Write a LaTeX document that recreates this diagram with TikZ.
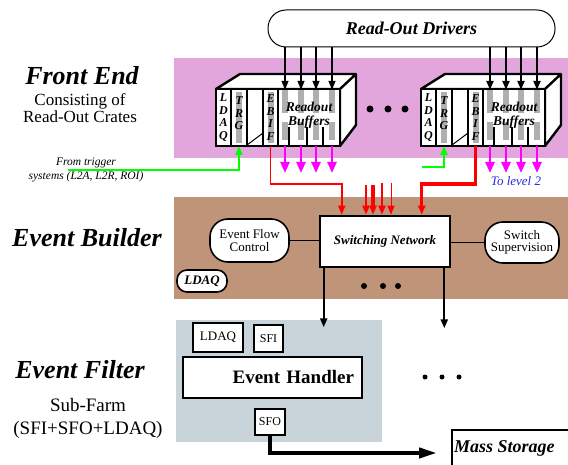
\documentclass[tikz,border=0pt]{standalone}
\usepackage{fontspec}
\setmainfont{Liberation Serif}
\usetikzlibrary{arrows.meta, positioning, calc}
\definecolor{fepink}{RGB}{226,166,220}
\definecolor{ebbrown}{RGB}{192,148,120}
\definecolor{efgray}{RGB}{200,212,218}
\definecolor{stripgray}{RGB}{175,175,175}
\definecolor{trgreen}{RGB}{0,255,0}
\definecolor{ebred}{RGB}{255,0,0}
\definecolor{romagenta}{RGB}{255,0,255}
\definecolor{lvlblue}{RGB}{40,40,230}

\begin{document}
\begin{tikzpicture}[x=1pt, y=-1pt,
    region/.style={anchor=north west, inner sep=0, outer sep=0},
    crate/.style={line width=2.4pt, line join=round},
    slot/.style={draw, line width=1.4pt, fill=white, inner sep=0, outer sep=0,
      minimum height=57pt, anchor=north west},
    letters/.style={font=\fontsize{12}{12.5}\selectfont\bfseries\itshape,
      align=center, inner sep=0},
    oval/.style={draw, line width=1.6pt, fill=white, rounded corners=18pt,
      align=center, inner sep=0, font=\fontsize{13}{12.5}\selectfont},
    stage/.style={font=\fontsize{26}{30}\selectfont\bfseries\itshape, inner sep=1pt},
    efbox/.style={draw, line width=2.2pt, fill=white, inner sep=0,
      font=\fontsize{12}{14}\selectfont},
    tip/.style={-{Triangle[width=7pt, length=9pt]}},
    redlink/.style={ebred, tip},
    >=Latex
  ]
  \useasboundingbox (0,0) rectangle (568,465);
  \clip (0,0) rectangle (568,465);

  % background areas
  \node[region, fill=fepink, minimum width=394pt, minimum height=100pt] (frontend) at (174,58) {};
  \node[region, fill=ebbrown, minimum width=394pt, minimum height=102pt] (builder) at (174,197) {};
  \node[region, fill=efgray, minimum width=206pt, minimum height=122pt] (farm) at (176,320) {};

  % left hand labels
  \node[stage] (fe) at (82,76) {Front End};
  \node[font=\fontsize{17}{13.5}\selectfont, align=center, inner sep=0] (fesub) at (80,108)
    {Consisting of\\Read-Out Crates};
  \node[font=\fontsize{11.5}{14}\selectfont\itshape, align=center] (trig) at (86,170)
    {From trigger\\systems (L2A, L2R, ROI)};
  \node[stage] (eb) at (87,238) {Event Builder};
  \node[stage] (ef) at (80,370) {Event Filter};
  \node[font=\fontsize{19}{23}\selectfont, align=center] (sf) at (88,418)
    {Sub-Farm\\(SFI+SFO+LDAQ)};

  % read-out drivers
  \node[oval, line width=1pt, minimum width=287pt, minimum height=37pt,
    font=\fontsize{18}{20}\selectfont\bfseries\itshape] (drivers) at (411.5,28.5)
    {Read-Out Drivers};

  % the read-out crates
  \foreach \cx/\c/\lw in {216/1/1.4pt, 421/2/2.6pt} {
    \draw[crate, fill=white] (\cx,89) -- (\cx+24,74) -- (\cx+140,74) -- (\cx+140,125)
      -- (\cx+124,146) -- (\cx+124,89) -- cycle (\cx+124,89) -- (\cx+140,74);
    \node[slot, minimum width=15pt] (ldaq\c) at (\cx,89) {};
    \node[slot, minimum width=16pt, right=0pt of ldaq\c] (trg\c) {};
    \node[slot, minimum width=16pt, right=0pt of trg\c] (spare\c) {};
    \node[slot, minimum width=15pt, right=0pt of spare\c] (ebif\c) {};
    \node[slot, minimum width=62pt, right=0pt of ebif\c] (bufs\c) {};
    \fill[stripgray] ([xshift=-3pt, yshift=-3pt]trg\c.north) rectangle ++(6,51);
    \fill[stripgray] ([xshift=-3pt, yshift=-3pt]ebif\c.north) rectangle ++(6,51);
    \draw[line width=1pt] ([yshift=1pt]spare\c.south west) -- ([yshift=13pt]spare\c.south east);
    \foreach \bx/\k in {69/1, 85/2, 100/3, 116/4} {
      \node[fill=stripgray, inner sep=0, minimum width=6pt, minimum height=23pt]
        (buf\c\k) at (\cx+\bx,101.5) {};
      \fill[stripgray] (\cx+\bx-3,122) rectangle ++(6,18);
    }
    \foreach \sx in {73, 91, 107}
      \draw[line width=1.4pt] (\cx+\sx,127) -- (\cx+\sx,146);
    \draw[crate] (ldaq\c.north west) rectangle (bufs\c.south east);
    \node[letters] (ldaqtxt\c) at (ldaq\c) {L\\D\\A\\Q};
    \node[letters] (trgtxt\c) at ([yshift=4pt]trg\c.center) {T\\R\\G};
    \node[letters] (ebiftxt\c) at (ebif\c) {E\\B\\I\\F};
    \node[font=\fontsize{13.5}{14}\selectfont\bfseries\itshape, align=center, inner sep=0]
      (rb\c) at ([yshift=2pt]bufs\c.center) {Readout\\Buffers};
    \foreach \k in {1,...,4} {
      \draw[line width=\lw, tip] (drivers.south -| buf\c\k.north) -- (buf\c\k.north);
      \draw[romagenta, line width=2.4pt, -{Triangle[width=9pt, length=11pt]}]
        (buf\c\k.south |- bufs\c.south) -- ++(0,27);
    }
  }
  \fill (370,109) circle (3.5pt) (388,109) circle (3.5pt) (405,109) circle (3.5pt);
  \node[font=\fontsize{13}{15}\selectfont\itshape, text=lvlblue] (lvl2) at (516,181) {To level 2};

  % event builder
  \node[draw, line width=2.6pt, fill=white, minimum width=130pt, minimum height=51pt,
    font=\fontsize{13}{15}\selectfont\bfseries\itshape] (sw) at (385,241.5) {Switching Network};
  \node[oval, minimum width=79pt, minimum height=43pt] (efc) at (249.5,240.5) {Event Flow\\Control};
  \node[oval, minimum width=74pt, minimum height=41pt] (ssup) at (522,242.5) {Switch\\Supervision};
  \node[oval, rounded corners=10pt, minimum width=50pt, minimum height=22pt,
    font=\fontsize{13}{15}\selectfont\bfseries\itshape] (ebldaq) at (202,281) {LDAQ};
  \draw[line width=1.6pt] (efc.east) -- (efc.east -| sw.west);
  \draw[line width=1.6pt] (ssup.west -| sw.east) -- (ssup.west);
  \fill (364,286) circle (3pt) (383,286) circle (3pt) (398,286) circle (3pt);

  % trigger and event building links
  \coordinate (trigin1) at (68,170);
  \coordinate (trigin2) at (422,167);
  \draw[trgreen, line width=2.4pt, tip] (trigin1) -| (trg1.south);
  \draw[trgreen, line width=2.4pt, tip] (trigin2) -| (trg2.south);
  \draw[redlink, line width=1.6pt] (ebif1.south) -- ++(0,38) -| ([xshift=23pt]sw.north west);
  \draw[redlink, line width=3.4pt] (ebif2.south) -- ++(0,38) -| ([xshift=103pt]sw.north west);
  \foreach \rx/\ry/\rw [count=\i] in {366/185/2.6pt, 373/185/3.2pt, 382/183/2pt, 391/183/1pt} {
    \coordinate (r\i) at (\rx,\ry);
    \draw[redlink, line width=\rw] (r\i) -- (r\i |- sw.north);
  }

  % event filter
  \node[efbox, minimum width=50pt, minimum height=29pt, font=\fontsize{13}{15}\selectfont]
    (efldaq) at (218,337.5) {LDAQ};
  \node[efbox, minimum width=29pt, minimum height=27pt] (sfi) at (268.5,338.5) {SFI};
  \node[efbox, minimum width=179pt, minimum height=41pt, text width=163pt, align=right,
    font=\fontsize{19}{22}\selectfont\bfseries] (handler) at (272.5,377.5) {Event Handler};
  \node[efbox, minimum width=30pt, minimum height=26pt] (sfo) at (270,422) {SFO};
  \draw[line width=2.2pt, tip] ([xshift=5pt]sw.south west) -- ++(0,59);
  \draw[line width=2.2pt, tip] ([xshift=-7pt]sw.south east) -- ++(0,60);
  \fill (425,377) circle (2.5pt) (442,377) circle (2.5pt) (459,377) circle (2.5pt);

  % mass storage
  \node[region, draw, line width=1.6pt, minimum width=130pt, minimum height=50pt] (mass) at (452,430) {};
  \node[anchor=west, inner sep=0, font=\fontsize{18}{20}\selectfont\bfseries\itshape]
    (masstxt) at ([xshift=2pt, yshift=-18pt]mass.north west) {Mass Storage};
  \draw[line width=4pt, -{Triangle[width=10pt, length=18pt]}]
    (sfo.south) |- ([xshift=-15pt, yshift=-23pt]mass.north west);
\end{tikzpicture}
\end{document}
